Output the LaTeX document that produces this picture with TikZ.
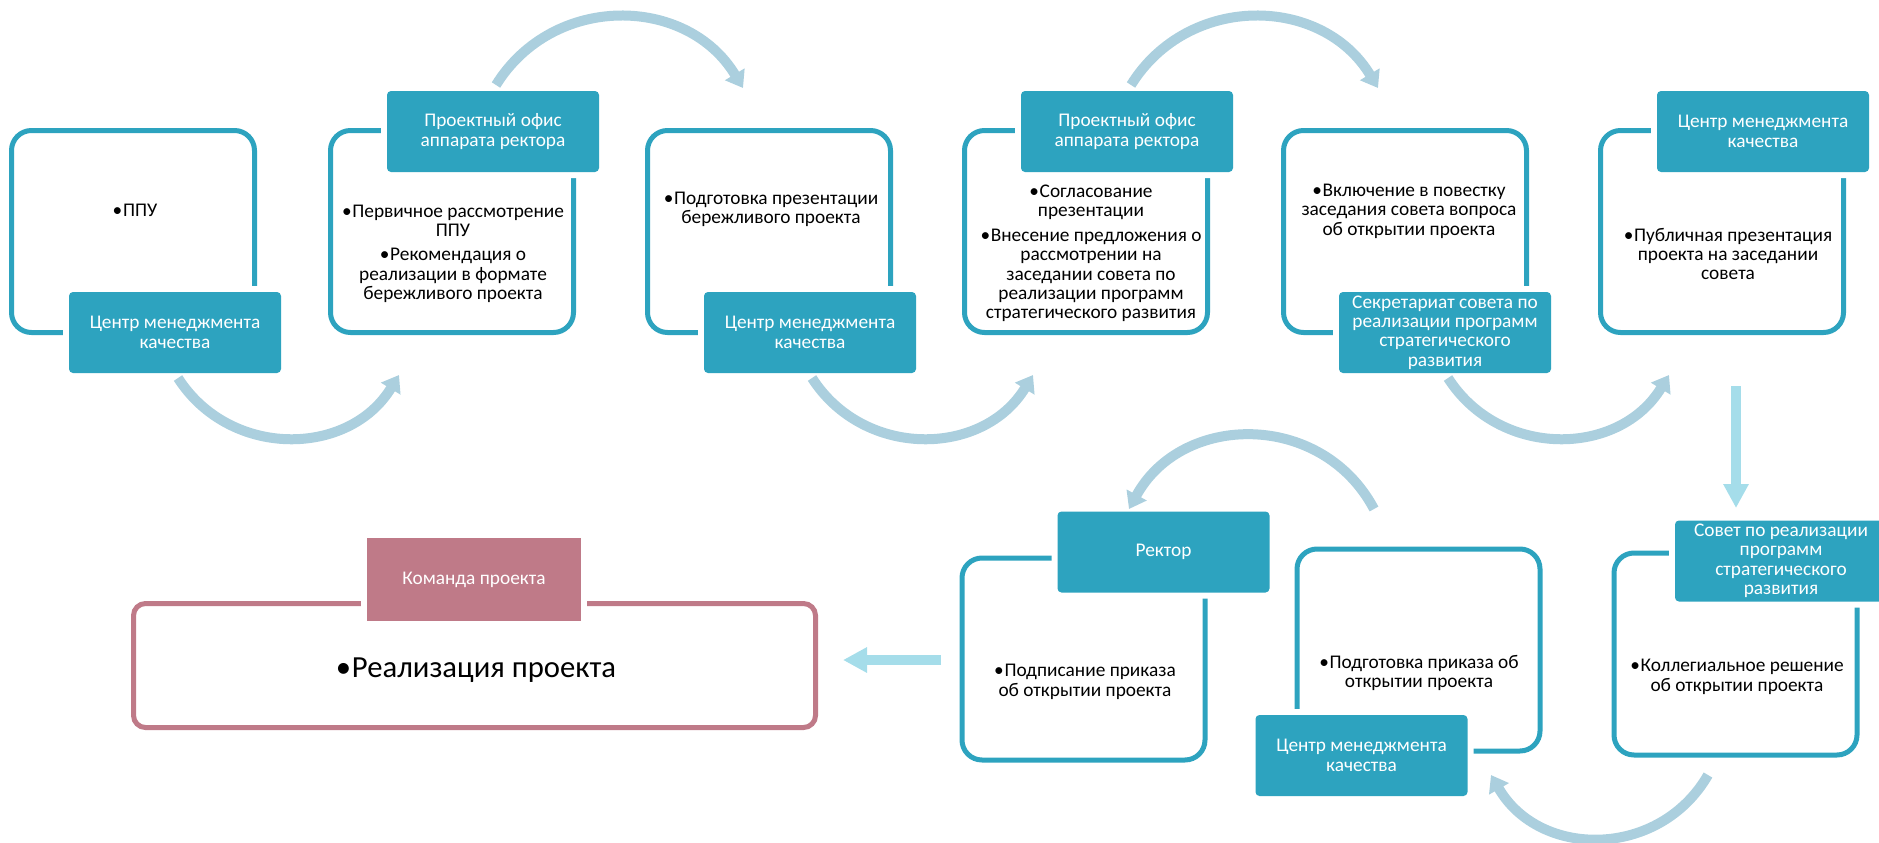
\documentclass[tikz,border=0pt]{standalone}
\usepackage{fontspec}
\setmainfont{Carlito}
\usetikzlibrary{arrows.meta}
\definecolor{tealbox}{HTML}{2DA3BF}
\definecolor{arcblue}{HTML}{ABCFDE}
\definecolor{cyanlt}{HTML}{A5DDEA}
\definecolor{rosebox}{HTML}{BF7A88}
\newcommand\txtbody{\fontsize{14.5pt}{14.6pt}\selectfont}
\newcommand\txtbig{\fontsize{23pt}{25pt}\selectfont}
\newcommand\bul{•\kern0.5pt}
\tikzset{
  outlinebox/.style={draw=tealbox, line width=3.75pt, rounded corners=15pt,
    minimum width=182.25pt, minimum height=151.5pt, inner sep=0pt},
  rosebig/.style={draw=rosebox, line width=3.75pt, rounded corners=9pt,
    minimum width=511.5pt, minimum height=93pt, inner sep=0pt},
  tealabel/.style={fill=tealbox, rounded corners=3pt, minimum width=159pt,
    minimum height=60.75pt, inner sep=0pt, text=white, align=center, font=\txtbody,
    preaction={draw=white, line width=9pt}},
  roselabel/.style={fill=rosebox, minimum width=160.5pt, minimum height=62.25pt,
    inner sep=0pt, text=white, align=center, font=\txtbody,
    preaction={draw=white, line width=9pt}},
  bodytext/.style={align=center, font=\txtbody, inner sep=0pt, text=black},
  bigtext/.style={align=center, font=\txtbig, inner sep=0pt, text=black},
  arcarrow/.style={draw=arcblue, line width=7.5pt, -{Triangle[length=12pt,width=16.5pt]}},
  cyanarrow/.style={draw=cyanlt, line width=7pt, -{Triangle[length=18pt,width=18pt]}}
}
\begin{document}
\begin{tikzpicture}[x=0.75pt,y=-0.75pt]
\useasboundingbox (0,0) rectangle (1879,843);
% outlines
\node[outlinebox] (o1) at (133,231.5) {};
\node[outlinebox] (o2) at (452,231.5) {};
\node[outlinebox] (o3) at (769,231.5) {};
\node[outlinebox] (o4) at (1086,231.5) {};
\node[outlinebox] (o5) at (1405,231.5) {};
\node[outlinebox] (o6) at (1722,231.5) {};
\node[outlinebox] (o9) at (1083.5,659) {};
\node[outlinebox] (o8) at (1418.5,650) {};
\node[outlinebox] (o7) at (1735.5,654) {};
\node[rosebig] (or) at (474.5,665.5) {};
% labels
\node[tealabel] (l1) at (175,332.5) {Центр менеджмента\\качества};
\node[tealabel] (l2) at (493,131.5) {Проектный офис\\аппарата ректора};
\node[tealabel] (l3) at (810,332.5) {Центр менеджмента\\качества};
\node[tealabel] (l4) at (1127,131.5) {Проектный офис\\аппарата ректора};
\node[tealabel] (l5) at (1445,332.5) {Секретариат совета по\\реализации программ\\стратегического\\развития};
\node[tealabel] (l6) at (1763,131.5) {Центр менеджмента\\качества};
\node[tealabel] (l7) at (1781,561) {Совет по реализации\\программ\\стратегического\\развития};
\node[tealabel] (l8) at (1361.5,755.5) {Центр менеджмента\\качества};
\node[tealabel] (l9) at (1163.5,552) {Ректор};
\node[roselabel] (lr) at (474,579.5) {Команда проекта};
% texts
\node[bodytext] (t1) at (135,210) {\bul ППУ};
\node[bodytext] (t2) at (453,254) {\bul Первичное рассмотрение\\ППУ\\[3.5pt]\bul Рекомендация о\\реализации в формате\\бережливого проекта};
\node[bodytext] (t3) at (771,209.5) {\bul Подготовка презентации\\бережливого проекта};
\node[bodytext] (t4) at (1091,253.5) {\bul Согласование\\презентации\\[3.5pt]\bul Внесение предложения о\\рассмотрении на\\заседании совета по\\реализации программ\\стратегического развития};
\node[bodytext] (t5) at (1409,211) {\bul Включение в повестку\\заседания совета вопроса\\об открытии проекта};
\node[bodytext] (t6) at (1728,254) {\bul Публичная презентация\\проекта на заседании\\совета};
\node[bodytext] (t7) at (1737,677) {\bul Коллегиальное решение\\об открытии проекта};
\node[bodytext] (t8) at (1419,673) {\bul Подготовка приказа об\\открытии проекта};
\node[bodytext] (t9) at (1085,682) {\bul Подписание приказа\\об открытии проекта};
\node[bigtext] (tr) at (476,670) {\bul Реализация проекта};
% arrow end points
\coordinate (a1s) at (178,378); \coordinate (a1e) at (399,375);
\coordinate (b1s) at (496,85);  \coordinate (b1e) at (743,88);
\coordinate (a2s) at (812,378); \coordinate (a2e) at (1033,375);
\coordinate (b2s) at (1131,85); \coordinate (b2e) at (1378,88);
\coordinate (a3s) at (1448,378); \coordinate (a3e) at (1669,375);
\coordinate (v1s) at (1736,386); \coordinate (v1e) at (1736,508);
\coordinate (c1s) at (1708,775); \coordinate (c1e) at (1491,775);
\coordinate (d1s) at (1374,509); \coordinate (d1e) at (1129,509);
\coordinate (h1s) at (941,660);  \coordinate (h1e) at (843,660);
% arrows
\draw[arcarrow] (a1s) .. controls +(52,81) and +(-50,82) .. (a1e);
\draw[arcarrow] (b1s) .. controls +(57,-92) and +(-56,-93) .. (b1e);
\draw[arcarrow] (a2s) .. controls +(52,81) and +(-50,82) .. (a2e);
\draw[arcarrow] (b2s) .. controls +(57,-92) and +(-56,-93) .. (b2e);
\draw[arcarrow] (a3s) .. controls +(52,81) and +(-50,82) .. (a3e);
\draw[arcarrow] (c1s) .. controls +(-48.5,84) and +(48.5,84) .. (c1e);
\draw[arcarrow] (d1s) .. controls +(-52,-98) and +(53,-97) .. (d1e);
\draw[cyanarrow] (v1s) -- (v1e);
\draw[cyanarrow] (h1s) -- (h1e);
% small mark at the bottom edge
\fill[tealbox] (1835,851) circle[radius=6pt];
\end{tikzpicture}
\end{document}
